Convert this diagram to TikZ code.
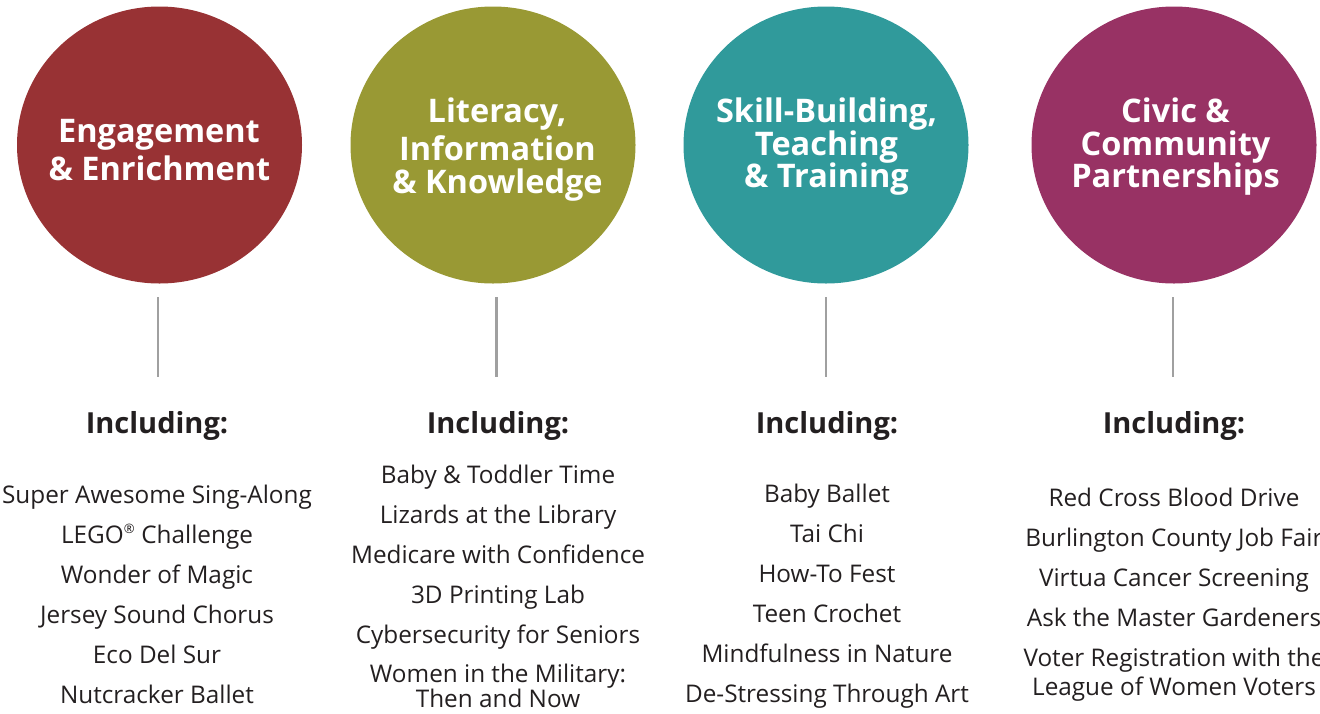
\documentclass[tikz,border=0pt]{standalone}
\usepackage{fontspec}
\setmainfont{Open Sans}
\usetikzlibrary{shapes.geometric}
\definecolor{cred}{RGB}{152,50,52}
\definecolor{colive}{RGB}{153,153,52}
\definecolor{cteal}{RGB}{48,154,155}
\definecolor{cmag}{RGB}{152,50,100}
\definecolor{ctext}{RGB}{35,31,32}
\definecolor{cline}{RGB}{160,160,160}
\tikzset{
  disc/.style={ellipse, minimum width=285pt, minimum height=277pt, inner sep=0pt},
  ttl/.style={anchor=base, inner sep=0pt, text=white, font=\fontsize{32.5}{36}\selectfont\bfseries},
  inclabel/.style={anchor=base, text=ctext, font=\fontsize{29}{32}\selectfont\bfseries, inner sep=0pt},
  item/.style={anchor=base, text=ctext, font=\fontsize{24.3}{28}\selectfont, inner sep=0pt},
  stem/.style={draw=cline, line width=2.5pt}
}
\begin{document}
\begin{tikzpicture}[x=1pt,y=-1pt]
\clip (0,0) rectangle (1320,713);
\useasboundingbox (0,0) rectangle (1320,713);
% circles
\node[disc, fill=cred] (c1) at (159.5,145) {};
\node[disc, fill=colive] (c2) at (493,145) {};
\node[disc, fill=cteal] (c3) at (826,145) {};
\node[disc, fill=cmag] (c4) at (1174,145) {};
% titles
\node[ttl] (t1a) at (159,142) {Engagement};
\node[ttl] (t1b) at (159.5,180) {\& Enrichment};
\node[ttl] (t2a) at (497,122) {Literacy,};
\node[ttl] (t2b) at (497.5,160) {Information};
\node[ttl] (t2c) at (497.5,193) {\& Knowledge};
\node[ttl] (t3a) at (826.5,122) {Skill-Building,};
\node[ttl] (t3b) at (826.5,155) {Teaching};
\node[ttl] (t3c) at (826.5,187) {\& Training};
\node[ttl] (t4a) at (1175.5,122) {Civic \&};
\node[ttl] (t4b) at (1175.5,155) {Community};
\node[ttl] (t4c) at (1175.5,187) {Partnerships};
% stems
\coordinate (s1a) at (158,297); \coordinate (s1b) at (158,377);
\coordinate (s2a) at (496.5,297); \coordinate (s2b) at (496.5,377);
\coordinate (s3a) at (826,297); \coordinate (s3b) at (826,377);
\coordinate (s4a) at (1173,297); \coordinate (s4b) at (1173,377);
\draw[stem] (s1a) -- (s1b);
\draw[stem] (s2a) -- (s2b);
\draw[stem] (s3a) -- (s3b);
\draw[stem] (s4a) -- (s4b);
% Including
\node[inclabel] (i1) at (157,433) {Including:};
\node[inclabel] (i2) at (498,433) {Including:};
\node[inclabel] (i3) at (827,433) {Including:};
\node[inclabel] (i4) at (1174,433) {Including:};
% column 1
\node[item] (a1) at (157,503) {Super Awesome Sing-Along};
\node[item] (a2) at (157,543) {LEGO\textsuperscript{\fontsize{13}{13}\selectfont ®} Challenge};
\node[item] (a3) at (157,583) {Wonder of Magic};
\node[item] (a4) at (157,623) {Jersey Sound Chorus};
\node[item] (a5) at (157,663) {Eco Del Sur};
\node[item] (a6) at (157,703) {Nutcracker Ballet};
% column 2
\node[item] (b1) at (498,483) {Baby \& Toddler Time};
\node[item] (b2) at (498,523) {Lizards at the Library};
\node[item] (b3) at (498,563) {Medicare with Confidence};
\node[item] (b4) at (498,603) {3D Printing Lab};
\node[item] (b5) at (498,643) {Cybersecurity for Seniors};
\node[item] (b6) at (498,682) {Women in the Military:};
\node[item] (b7) at (498,707) {Then and Now};
% column 3
\node[item] (d1) at (827,502) {Baby Ballet};
\node[item] (d2) at (827,542) {Tai Chi};
\node[item] (d3) at (827,582) {How-To Fest};
\node[item] (d4) at (827,622) {Teen Crochet};
\node[item] (d5) at (827,662) {Mindfulness in Nature};
\node[item] (d6) at (827,702) {De-Stressing Through Art};
% column 4
\node[item] (e1) at (1174,506) {Red Cross Blood Drive};
\node[item] (e2) at (1174,546) {Burlington County Job Fair};
\node[item] (e3) at (1174,586) {Virtua Cancer Screening};
\node[item] (e4) at (1174,626) {Ask the Master Gardeners};
\node[item] (e5) at (1174,666) {Voter Registration with the};
\node[item] (e6) at (1174,695) {League of Women Voters};
\end{tikzpicture}
\end{document}
